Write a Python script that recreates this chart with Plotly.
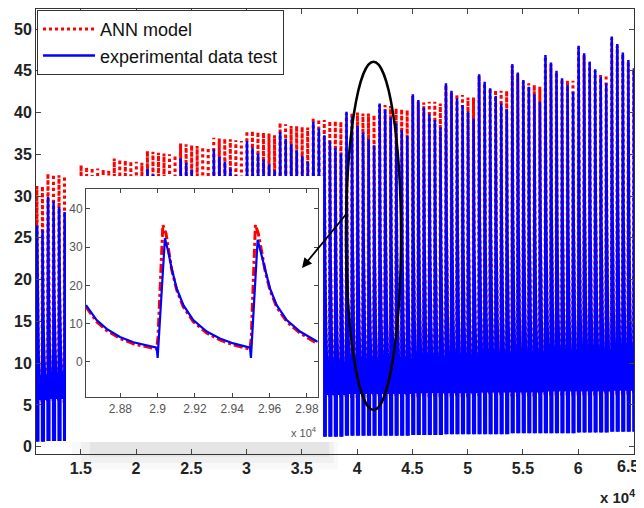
import plotly.graph_objects as go

# ---------------- main chart data ----------------
first_cycle = 11000          # time of first visible cycle start
cycle_len = 500              # cycle period (from inset: peaks at 2.90e4 and 2.95e4)

# peak of every cycle, experimental data (blue)
exp_peaks = [26.5, 25.9,
             29.9, 29.4, 28.7, 28.1, 27.5, 26.9,
             31.0, 30.4, 29.8, 29.2, 28.6, 28.0,
             32.2, 31.6, 31.0, 30.3, 29.6, 29.0,
             33.3, 32.6, 31.9, 31.2, 30.5, 29.8,
             34.5, 34.0, 33.2, 32.4, 31.7, 31.0,
             35.6, 34.7, 34.1, 33.3, 32.5, 31.9,
             36.6, 35.8, 35.1, 34.4, 33.8, 33.1,
             37.7, 36.9, 36.2, 35.5, 34.8, 34.1,
             38.9, 38.1, 37.3, 36.6, 35.8, 35.1,
             40.1, 39.5, 38.4, 37.6, 36.8, 36.1,
             41.1, 40.3, 39.4, 38.7, 37.9, 37.2,
             42.2, 41.5, 40.6, 39.8, 39.1, 38.2,
             43.5, 42.6, 41.7, 40.9, 40.1, 39.3,
             44.6, 43.7, 42.9, 42.0, 41.1, 40.4,
             45.8, 44.8, 43.9, 43.1, 42.2, 41.3,
             46.9, 46.0, 45.0, 44.1, 43.3, 42.5,
             48.0, 47.1, 46.1, 45.2, 44.3, 43.5,
             49.1, 48.2, 47.2, 46.3, 45.3]

# peak of every cycle, ANN model (red)
ann_peaks = [31.2, 31.2,
             32.7, 32.6, 32.5, 32.4, 32.2, 32.0,
             33.7, 33.5, 33.4, 33.3, 33.2, 33.1,
             34.5, 34.4, 34.3, 34.2, 34.1, 34.0,
             35.4, 35.3, 35.2, 35.1, 35.0, 34.9,
             36.3, 36.2, 36.1, 36.0, 35.9, 35.8,
             37.0, 36.9, 36.9, 36.8, 36.7, 36.6,
             37.8, 37.8, 37.7, 37.6, 37.5, 37.3,
             38.8, 38.6, 38.4, 38.4, 38.3, 38.2,
             39.4, 39.2, 39.1, 39.0, 39.0, 38.9,
             39.9, 40.0, 40.0, 39.9, 39.9, 39.7,
             40.9, 40.9, 40.8, 40.5, 40.4, 40.3,
             42.0, 41.3, 41.2, 41.3, 41.3, 41.1,
             43.3, 42.4, 42.2, 42.1, 41.8, 41.8,
             44.4, 43.5, 42.9, 42.7, 42.6, 42.6,
             45.6, 44.6, 43.7, 43.5, 43.3, 43.1,
             46.7, 45.8, 44.8, 44.0, 43.9, 43.8,
             47.8, 46.9, 45.9, 45.0, 44.5, 44.5,
             48.9, 48.0, 47.0, 46.1, 45.1]

# per group of six cycles: value at end of decay and dip minimum
group_tail = [5.6, 5.7, 5.8, 5.9, 6.0, 6.0, 6.1, 6.1, 6.2, 6.2,
              6.3, 6.3, 6.4, 6.4, 6.5, 6.5, 6.6, 6.6, 6.7]
group_min = [0.6, 0.7, 0.8, 0.8, 0.9, 1.0, 1.0, 1.1, 1.2, 1.2,
             1.3, 1.3, 1.4, 1.5, 1.5, 1.6, 1.6, 1.7, 1.8]

# one cycle shape (offset after cycle start, value)
exp_shape_t = [39, 57, 75, 102, 138, 191, 263, 334, 406, 495]
exp_shape_v = [32.3, 28.8, 24.4, 19.2, 14.8, 10.9, 7.9, 6.1, 4.8, 3.7]
ann_shape_t = [28, 57, 75, 102, 138, 191, 263, 334, 406, 495]
ann_shape_v = [35.8, 29.5, 24.2, 18.8, 14.3, 10.5, 7.5, 5.7, 4.4, 3.3]

# ---------------- inset data ----------------
inset_exp_t = [28616, 28673, 28727, 28798, 28870, 28941, 28995, 29000, 29039, 29057,
               29075, 29102, 29138, 29191, 29263, 29334, 29406, 29495, 29500, 29536,
               29558, 29576, 29602, 29638, 29692, 29763, 29858]
inset_exp_v = [14.8, 10.9, 8.6, 6.5, 5.1, 4.2, 3.7, 1.0, 32.3, 28.8,
               24.4, 19.2, 14.8, 10.9, 7.9, 6.1, 4.8, 3.7, 1.0, 31.9,
               27.9, 24.0, 19.2, 14.8, 10.9, 7.9, 5.2]
inset_ann_t = [28616, 28673, 28727, 28798, 28870, 28941, 28995, 29002, 29015, 29028,
               29045, 29057, 29075, 29102, 29138, 29191, 29263, 29334, 29406, 29495,
               29502, 29512, 29524, 29540, 29558, 29576, 29602, 29638, 29692, 29763, 29858]
inset_ann_v = [14.4, 10.5, 8.2, 6.1, 4.7, 3.8, 3.3, 6.5, 20.0, 35.8,
               33.5, 29.5, 24.2, 18.8, 14.3, 10.5, 7.5, 5.7, 4.4, 3.3,
               6.5, 20.0, 35.8, 33.5, 28.8, 23.8, 18.8, 14.3, 10.5, 7.5, 4.7]

x_tick_vals = [15000, 20000, 25000, 30000, 35000, 40000, 45000, 50000, 55000, 60000, 65000]
x_tick_text = ['1.5', '2', '2.5', '3', '3.5', '4', '4.5', '5', '5.5', '6', '']
last_x_label = '6.5'   # drawn slightly left of its tick (as in the original) so it stays inside
y_tick_vals = [0, 5, 10, 15, 20, 25, 30, 35, 40, 45, 50]
inset_x_vals = [28800, 29000, 29200, 29400, 29600, 29800]
inset_x_text = ['2.88', '2.9', '2.92', '2.94', '2.96', '2.98']
inset_y_vals = [0, 10, 20, 30, 40]

# ---------------- build the time series ----------------
GAP = 270   # offset where the dense low part of each cycle ends (leaves thin white gaps)
ref_peak, ref_tail = exp_shape_v[0], exp_shape_v[-1]
ex, ey = [10950], [group_tail[0] + 0.3]
ax_, ay_ = [10950], [group_tail[0]]
fx, fy = [], []
for k, (pe, pa) in enumerate(zip(exp_peaks, ann_peaks)):
    t0 = first_cycle + cycle_len * k
    g = (k + 4) // 6
    tail, low = group_tail[g], group_min[g]
    scale = (pe - tail) / (ref_peak - ref_tail)
    cyc_x, cyc_y = [t0], [low]
    for o, v in zip(exp_shape_t, exp_shape_v):
        cyc_x.append(t0 + o)
        cyc_y.append(pe if o == exp_shape_t[0] else tail + (v - ref_tail) * scale)
    ex += cyc_x
    ey += cyc_y
    fx += cyc_x + [t0 + GAP, t0 + GAP, None]
    fy += cyc_y + [tail, low, None]
    ax_.append(t0); ay_.append(tail - 0.3)
    for o, v in zip(ann_shape_t, ann_shape_v):
        ax_.append(t0 + o)
        ay_.append(pa if o == ann_shape_t[0] else tail - 0.3 + (v - 3.3) * scale)

FONT = 'Liberation Sans, Arial, sans-serif'
fig = go.Figure()
fig.add_trace(go.Scatter(x=ax_, y=ay_, mode='lines', name='ANN model',
                         line=dict(color='#ff0000', width=3, dash='dot')))
fig.add_trace(go.Scatter(x=fx, y=fy, mode='lines', fill='toself', fillcolor='#0000ff',
                         line=dict(width=0, color='#0000ff'), showlegend=False, hoverinfo='skip'))
fig.add_trace(go.Scatter(x=ex, y=ey, mode='lines', name='experimental data test',
                         line=dict(color='#0000ff', width=2.5)))
# white panel of the inset (own subplot so it covers the main data)
fig.add_trace(go.Scatter(x=[-5], y=[-5], xaxis='x2', yaxis='y2', mode='markers',
                         showlegend=False, hoverinfo='skip'))
fig.add_trace(go.Scatter(x=inset_ann_t, y=inset_ann_v, xaxis='x3', yaxis='y3', mode='lines',
                         showlegend=False, line=dict(color='#ff0000', width=3, dash='dashdot')))
fig.add_trace(go.Scatter(x=inset_exp_t, y=inset_exp_v, xaxis='x3', yaxis='y3', mode='lines',
                         showlegend=False, line=dict(color='#0000ff', width=2.2)))

main_font = dict(family=FONT, size=16, color='#222', weight='bold')
fig.update_layout(
    # page body adds an 8px offset, so the figure is 8px smaller with tighter left/top margins
    width=636, height=500, autosize=False, template='none',
    paper_bgcolor='white', plot_bgcolor='white',
    margin=dict(l=28, r=10, t=1, b=54),
    xaxis=dict(domain=[0, 1], range=[10950, 65050], tickvals=x_tick_vals, ticktext=x_tick_text,
               ticks='inside', ticklen=5, mirror='ticks', showline=True, linecolor='#333',
               linewidth=1, showgrid=False, zeroline=False, tickfont=main_font),
    yaxis=dict(domain=[0, 1], range=[-0.87, 52.4], tickvals=y_tick_vals,
               ticks='inside', ticklen=5, mirror='ticks', showline=True, linecolor='#333',
               linewidth=1, showgrid=False, zeroline=False, tickfont=main_font),
    xaxis2=dict(domain=[0.0502, 0.48], range=[0, 1], anchor='y2', showline=False,
                showticklabels=False, ticks='', showgrid=False, zeroline=False),
    yaxis2=dict(domain=[0.027, 0.6247], range=[0, 1], anchor='x2', showline=False,
                showticklabels=False, ticks='', showgrid=False, zeroline=False),
    xaxis3=dict(domain=[0.0836, 0.4711], range=[28616, 29858], anchor='y3',
                tickvals=inset_x_vals, ticktext=inset_x_text, ticks='inside', ticklen=4,
                mirror='ticks', showline=True, linecolor='#444', showgrid=False, zeroline=False,
                tickfont=dict(family=FONT, size=12, color='#555')),
    yaxis3=dict(domain=[0.1274, 0.5955], range=[-9.3, 45.2], anchor='x3',
                tickvals=inset_y_vals, ticks='inside', ticklen=4,
                mirror='ticks', showline=True, linecolor='#444', showgrid=False, zeroline=False,
                tickfont=dict(family=FONT, size=12, color='#555')),
    legend=dict(x=0.0017, y=0.998, xanchor='left', yanchor='top', bgcolor='white',
                bordercolor='#333', borderwidth=1, font=dict(family=FONT, size=18, color='#111'),
                itemwidth=52, tracegroupgap=0),
    showlegend=True,
)

# soft shadow under the inset panel
for x0, x1, y0, y1, op in [(0.060, 0.505, 0.027, -0.035, 0.025),
                           (0.075, 0.498, 0.027, -0.020, 0.035),
                           (0.090, 0.490, 0.027, -0.006, 0.045)]:
    fig.add_shape(type='rect', xref='paper', yref='paper', x0=x0, x1=x1, y0=y0, y1=y1,
                  fillcolor=f'rgba(0,0,0,{op})', line=dict(width=0), layer='below')

# ellipse highlighting the zoomed zone
fig.add_shape(type='circle', xref='paper', yref='paper', x0=0.5184, x1=0.6104,
              y0=0.0989, y1=0.8816, line=dict(color='black', width=2.5), layer='above')

fig.add_annotation(x=0.4448, y=0.418, xref='paper', yref='paper', ax=46, ay=-56, text='',
                   showarrow=True, arrowhead=2, arrowsize=1.1, arrowwidth=1.8, arrowcolor='black')
fig.add_annotation(x=0.99, y=-0.0292, xref='paper', yref='paper', showarrow=False,
                   xanchor='center', yanchor='middle', text=last_x_label, font=main_font)
fig.add_annotation(x=0.973, y=-0.0966, xref='paper', yref='paper', showarrow=False,
                   xanchor='center', yanchor='middle',
                   text='x 10<sup>4</sup>', font=dict(family=FONT, size=15, color='#222', weight='bold'))
fig.add_annotation(x=0.448, y=0.049, xref='paper', yref='paper', showarrow=False,
                   xanchor='center', yanchor='middle',
                   text='x 10<sup>4</sup>', font=dict(family=FONT, size=11, color='#555'))

fig.write_html('out.html')
